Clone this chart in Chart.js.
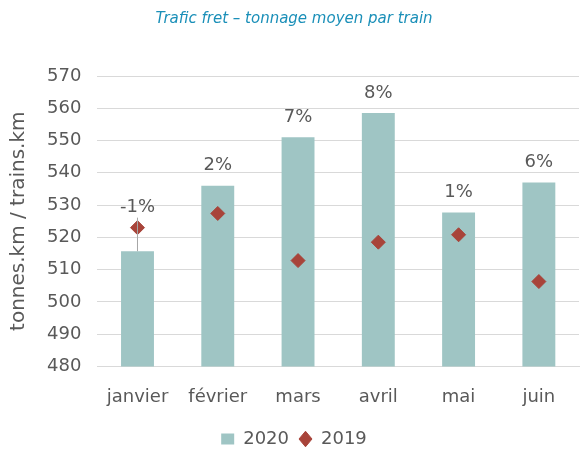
<!DOCTYPE html>
<html>
<head>
<meta charset="utf-8">
<script src="https://cdn.jsdelivr.net/npm/chart.js@4/dist/chart.umd.min.js"></script>
<style>
  html, body { margin: 0; padding: 0; background: #fff; }
  #wrap { width: 587px; height: 450px; position: relative; }
</style>
</head>
<body>
<div id="wrap"><canvas id="graphique"></canvas></div>
<script>
const mois = ['janvier', 'février', 'mars', 'avril', 'mai', 'juin'];
const tonnage2020 = [515.7, 536, 551, 558.5, 527.7, 537];
const tonnage2019 = [523, 527.4, 512.8, 518.5, 520.8, 506.3];
const variations = ['-1%', '2%', '7%', '8%', '1%', '6%'];

const gris = '#595959';
const police = "'DejaVu Sans', sans-serif";

// étiquettes de variation au-dessus de chaque mois
const etiquettes = {
    id: 'etiquettes',
    afterDatasetsDraw(chart) {
        const ctx = chart.ctx;
        const y = chart.scales.y;
        const barres = chart.getDatasetMeta(0).data;
        ctx.save();
        ctx.font = '18px ' + police;
        ctx.fillStyle = gris;
        ctx.textAlign = 'center';
        ctx.textBaseline = 'middle';
        barres.forEach((barre, i) => {
            const haut = Math.max(tonnage2020[i], tonnage2019[i]);
            const yLabel = y.getPixelForValue(haut) - 20;
            ctx.fillText(variations[i], barre.x, yLabel);
            if (tonnage2019[i] > tonnage2020[i]) {
                // trait de rappel vers la barre
                ctx.strokeStyle = '#a6a6a6';
                ctx.lineWidth = 1;
                ctx.beginPath();
                ctx.moveTo(barre.x, yLabel + 10);
                ctx.lineTo(barre.x, barre.y);
                ctx.stroke();
            }
        });
        ctx.restore();
    }
};

new Chart(document.getElementById('graphique'), {
    type: 'bar',
    data: {
        labels: mois,
        datasets: [
            {
                label: '2020',
                data: tonnage2020,
                backgroundColor: '#9fc5c4',
                barPercentage: 0.41,
                categoryPercentage: 1,
                pointStyle: 'rect',
                order: 2
            },
            {
                label: '2019',
                type: 'line',
                data: tonnage2019,
                showLine: false,
                pointStyle: 'rectRot',
                pointRadius: 7,
                pointHoverRadius: 7,
                backgroundColor: '#a8443a',
                borderColor: '#a8443a',
                order: 1
            }
        ]
    },
    options: {
        responsive: true,
        maintainAspectRatio: false,
        animation: false,
        layout: { padding: { top: 10, right: 6, left: 7, bottom: -8 } },
        plugins: {
            title: {
                display: true,
                text: 'Trafic fret – tonnage moyen par train',
                color: '#1a8fb8',
                font: { family: police, size: 15, style: 'italic', weight: 'normal' },
                padding: { top: 0, bottom: 48 }
            },
            legend: {
                position: 'bottom',
                labels: {
                    usePointStyle: true,
                    pointStyleWidth: 13,
                    boxHeight: 11,
                    color: gris,
                    font: { family: police, size: 18 },
                    padding: 10,
                    sort: (a, b) => a.datasetIndex - b.datasetIndex
                }
            },
            tooltip: { enabled: false }
        },
        scales: {
            x: {
                grid: { display: false },
                border: { color: '#d9d9d9' },
                ticks: { color: gris, font: { family: police, size: 18 }, padding: 12 }
            },
            y: {
                min: 480,
                max: 570,
                ticks: { stepSize: 10, color: gris, font: { family: police, size: 18 }, padding: 16 },
                grid: { color: '#d9d9d9', drawTicks: false },
                border: { display: false },
                title: {
                    display: true,
                    text: 'tonnes.km / trains.km',
                    color: gris,
                    font: { family: police, size: 20 },
                    padding: 0
                }
            }
        }
    },
    plugins: [etiquettes]
});
</script>
</body>
</html>
